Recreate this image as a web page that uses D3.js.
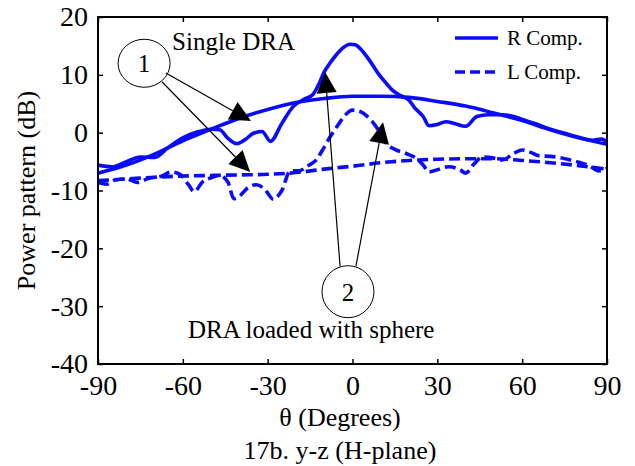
<!DOCTYPE html>
<html>
<head>
<meta charset="utf-8">
<script src="https://cdn.jsdelivr.net/npm/d3@7"></script>
<style>
  body { margin: 0; background: #fff; }
  svg text { font-family: "Liberation Serif", "Times New Roman", serif !important; fill: #000; }
</style>
</head>
<body>
<svg id="chart" width="635" height="466"></svg>
<script>
// Tick values
const xTicks = [-90, -60, -30, 0, 30, 60, 90];
const yTicks = [-40, -30, -20, -10, 0, 10, 20];

// Single DRA, R component (theta, dB)
const singleRTheta = [-90, -80, -70, -60, -50, -40, -30, -20, -10, 0, 10, 20, 30, 40, 50, 60, 70, 80, 90];
const singleRVal   = [-7, -5.6, -3.7, -1.4, 0.6, 2.5, 4.0, 5.2, 5.9, 6.3, 6.3, 6.1, 5.4, 4.6, 3.4, 2.1, 0.5, -0.9, -2.0];

// DRA loaded with sphere, R component
const loadedRTheta = [-90, -85, -80, -75, -70, -65, -60, -55, -50, -47, -44, -41, -38, -35, -32, -29, -25, -21, -17, -14, -12, -10, -8, -6, -3, -1, 1, 3, 5, 7, 9, 12, 14, 17, 20, 22, 25, 27, 30, 33, 36, 40, 44, 48, 53, 57, 60, 65, 70, 75, 80, 85, 88, 90];
const loadedRVal   = [-5.6, -5.9, -5.0, -4.2, -4.3, -2.5, -0.9, 0.1, 0.6, 0.5, -1.0, -1.9, -1.2, -0.1, 0.2, -1.5, 1.6, 4.5, 5.8, 6.6, 8.3, 10.5, 12.0, 13.3, 14.8, 15.3, 15.2, 14.4, 13.2, 11.8, 10.3, 8.5, 7.4, 6.4, 5.6, 4.3, 2.8, 1.2, 1.4, 1.9, 1.6, 1.1, 2.8, 3.1, 3.1, 2.8, 2.3, 1.5, 0.6, -0.1, -0.8, -1.3, -1.1, -1.6];

// Single DRA, L component
const singleLTheta = [-90, -80, -70, -60, -50, -40, -30, -20, -10, 0, 10, 20, 30, 40, 50, 60, 70, 80, 90];
const singleLVal   = [-8.3, -8.0, -7.7, -7.5, -7.4, -7.3, -7.2, -6.9, -6.3, -5.8, -5.2, -4.8, -4.6, -4.5, -4.5, -4.8, -5.2, -5.7, -6.3];

// DRA loaded with sphere, L component
const loadedLTheta = [-90, -87, -84, -80, -76, -72, -68, -64, -61, -58, -56, -53, -50, -47, -44, -42, -40, -37, -34, -31, -28, -25, -22, -19, -16, -13, -10, -8, -5, -3, 0, 3, 5, 7, 10, 12, 15, 19, 23, 25, 27, 30, 34, 38, 40, 43, 46, 50, 53, 57, 60, 63, 66, 70, 73, 76, 80, 84, 87, 90];
const loadedLVal   = [-8.6, -8.9, -8.2, -8.0, -8.6, -7.9, -7.6, -6.8, -7.2, -9.0, -10.2, -8.5, -7.8, -7.4, -8.6, -11.4, -11.0, -9.5, -9.0, -9.8, -11.5, -10.0, -6.6, -6.6, -5.8, -4.8, -2.5, -0.8, 1.4, 2.8, 3.9, 3.6, 2.9, 1.9, -0.2, -1.9, -2.9, -3.6, -4.6, -5.6, -6.8, -6.4, -5.9, -6.4, -7.0, -5.4, -4.2, -4.4, -4.7, -3.6, -3.0, -3.4, -4.0, -4.1, -4.3, -4.6, -5.1, -5.8, -6.6, -6.2];

const FONT = "'Liberation Serif', 'Times New Roman', serif";
const margin = { top: 17, right: 28, bottom: 102, left: 98 };
const width = 635 - margin.left - margin.right;
const height = 466 - margin.top - margin.bottom;

const svg = d3.select("#chart");
const g = svg.append("g").attr("transform", `translate(${margin.left},${margin.top})`);

const x = d3.scaleLinear().domain([-90, 90]).range([0, width]);
const y = d3.scaleLinear().domain([-40, 20]).range([height, 0]);

g.append("clipPath").attr("id", "clip")
  .append("rect").attr("width", width).attr("height", height);

// Curves
const line = d3.line()
  .x(d => x(d[0]))
  .y(d => y(d[1]))
  .curve(d3.curveMonotoneX);

const series = [
  { theta: singleRTheta, val: singleRVal, dash: null },
  { theta: loadedRTheta, val: loadedRVal, dash: null },
  { theta: singleLTheta, val: singleLVal, dash: "11,5" },
  { theta: loadedLTheta, val: loadedLVal, dash: "11,5" }
];

const curves = g.append("g").attr("clip-path", "url(#clip)");
series.forEach(s => {
  curves.append("path")
    .datum(d3.zip(s.theta, s.val))
    .attr("fill", "none")
    .attr("stroke", "#0a0aff")
    .attr("stroke-width", 3.6)
    .attr("stroke-linejoin", "round")
    .attr("stroke-dasharray", s.dash)
    .attr("d", line);
});

// Axes with inward ticks on all four sides (plain hyphen for negatives)
const fmt = d => String(d);
const styleAxis = sel => {
  sel.attr("font-family", FONT);
  sel.select(".domain").remove();
  sel.selectAll(".tick line").attr("stroke", "#000").attr("stroke-width", 1.5);
  sel.selectAll("text").style("font-size", "28px").style("font-family", FONT);
};

g.append("g")
  .call(d3.axisLeft(y).tickValues(yTicks).tickFormat(fmt).tickSize(-5).tickPadding(10))
  .call(styleAxis);

g.append("g")
  .attr("transform", `translate(0,${height})`)
  .call(d3.axisBottom(x).tickValues(xTicks).tickFormat(fmt).tickSize(-5).tickPadding(11))
  .call(styleAxis);

g.append("g")
  .attr("transform", `translate(${width},0)`)
  .call(d3.axisRight(y).tickValues(yTicks).tickFormat("").tickSize(-5))
  .call(styleAxis);

g.append("g")
  .call(d3.axisTop(x).tickValues(xTicks).tickFormat("").tickSize(-5))
  .call(styleAxis);

g.append("rect")
  .attr("width", width).attr("height", height)
  .attr("fill", "none").attr("stroke", "#000").attr("stroke-width", 2);

// Axis labels
const label = (sel, size) => sel.style("font-size", size).style("font-family", FONT);

svg.append("text")
  .attr("x", 340).attr("y", 426)
  .attr("text-anchor", "middle")
  .call(label, "26px")
  .text("θ (Degrees)");

svg.append("text")
  .attr("x", 340).attr("y", 459)
  .attr("text-anchor", "middle")
  .call(label, "26px")
  .text("17b. y-z (H-plane)");

svg.append("text")
  .attr("transform", `translate(35,${margin.top + height / 2}) rotate(-90)`)
  .attr("text-anchor", "middle")
  .call(label, "26px")
  .text("Power pattern (dB)");

// Legend
const legend = g.append("g").attr("transform", "translate(357,0)");
[["R Comp.", null, 21], ["L Comp.", "10,5", 55]].forEach(([name, dash, ly]) => {
  legend.append("line")
    .attr("x1", 0).attr("x2", 43).attr("y1", ly).attr("y2", ly)
    .attr("stroke", "#0a0aff").attr("stroke-width", 3.6)
    .attr("stroke-dasharray", dash);
  legend.append("text")
    .attr("x", 52).attr("y", ly + 7)
    .call(label, "21px")
    .text(name);
});

// Annotations (placed in data coordinates)
const note = g.append("g");
note.append("text")
  .attr("x", x(-63.8)).attr("y", y(14.3))
  .call(label, "25px")
  .text("Single DRA");
note.append("text")
  .attr("x", x(-58.2)).attr("y", y(-35.5))
  .call(label, "25px")
  .text("DRA loaded with sphere");

const circles = [
  { t: -73.7, v: 12.0, rx: 26, ry: 24, text: "1" },
  { t: -1.6, v: -27.5, rx: 26, ry: 26, text: "2" }
];
circles.forEach(c => {
  note.append("ellipse")
    .attr("cx", x(c.t)).attr("cy", y(c.v))
    .attr("rx", c.rx).attr("ry", c.ry)
    .attr("fill", "#fff").attr("stroke", "#000").attr("stroke-width", 1);
  note.append("text")
    .attr("x", x(c.t)).attr("y", y(c.v) + 9)
    .attr("text-anchor", "middle")
    .call(label, "25px")
    .text(c.text);
});

const arrows = [
  { from: [-66.0, 10.3], to: [-35.9, 2.0] },
  { from: [-67.4, 8.8], to: [-36.2, -6.8] },
  { from: [-4.4, -23.1], to: [-9.7, 10.5] },
  { from: [1.2, -23.1], to: [10.8, 1.8] }
];
arrows.forEach(a => {
  const x0 = x(a.from[0]), y0 = y(a.from[1]);
  const x1 = x(a.to[0]), y1 = y(a.to[1]);
  const len = Math.hypot(x1 - x0, y1 - y0);
  const ux = (x1 - x0) / len, uy = (y1 - y0) / len;
  const hl = 21, hw = 10;
  const bx = x1 - ux * hl, by = y1 - uy * hl;
  note.append("line")
    .attr("x1", x0).attr("y1", y0).attr("x2", bx).attr("y2", by)
    .attr("stroke", "#000").attr("stroke-width", 1.2);
  note.append("path")
    .attr("d", `M${x1},${y1}L${bx - uy * hw},${by + ux * hw}L${bx + uy * hw},${by - ux * hw}Z`)
    .attr("fill", "#000");
});
</script>
</body>
</html>
